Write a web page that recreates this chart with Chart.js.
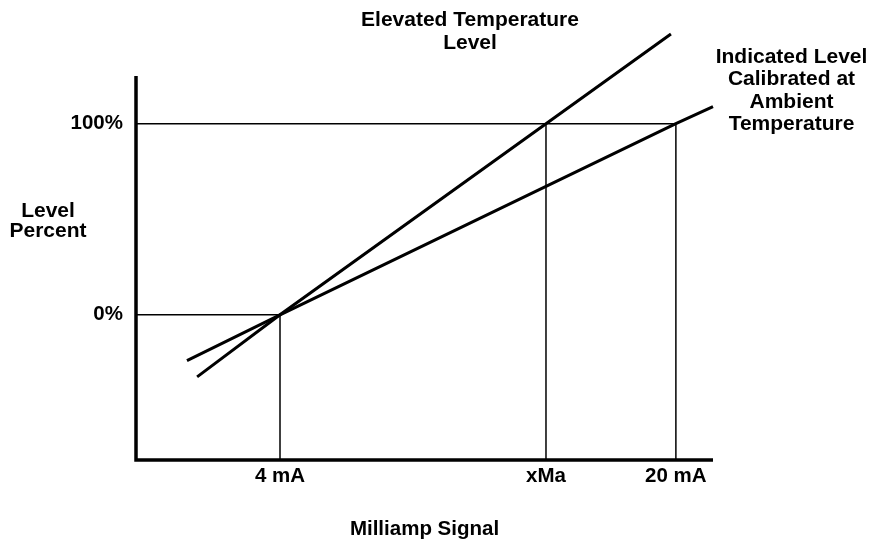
<!DOCTYPE html>
<html>
<head>
<meta charset="utf-8">
<script src="https://cdn.jsdelivr.net/npm/chart.js@4/dist/chart.umd.min.js"></script>
<style>
  html, body { margin: 0; padding: 0; background: #fff; }
  #wrap { width: 884px; height: 544px; position: relative; }
</style>
</head>
<body>
<div id="wrap"><canvas id="levelChart"></canvas></div>
<script>
// tick positions (mA) and labels
const xTickValues = [4, 14.75, 20];
const xTickLabels = ['4 mA', 'xMa', '20 mA'];
const yTickValues = [0, 100];
const yTickLabels = ['0%', '100%'];

// axis extents
const xAxisMin = -1.82, xAxisMax = 21.5;
const yAxisMin = -76, yAxisTop = 125, yScaleMax = 148;

// the two calibration lines (mA, percent)
const elevatedX = [0.65, 4, 14.75, 19.8];
const elevatedY = [-32.5, 0, 100, 147];
const indicatedX = [0.24, 4, 20, 21.5];
const indicatedY = [-24, 0, 100, 109];

const FAMILY = '"Liberation Sans", Arial, sans-serif';

function pts(xs, ys) {
    return xs.map((x, i) => ({ x: x, y: ys[i] }));
}

function thin(data) {
    return { data, borderColor: '#000', borderWidth: 1.5, pointRadius: 0, showLine: true, clip: false };
}

const datasets = [
    // axes frame
    { data: pts([xAxisMin, xAxisMin, xAxisMax], [yAxisTop, yAxisMin, yAxisMin]),
      borderColor: '#000', borderWidth: 3.5, pointRadius: 0, showLine: true, clip: false,
      borderJoinStyle: 'miter' },
    // guide lines
    thin(pts([xAxisMin, xTickValues[2]], [yTickValues[1], yTickValues[1]])),
    thin(pts([xAxisMin, xTickValues[0]], [yTickValues[0], yTickValues[0]])),
    thin(pts([xTickValues[0], xTickValues[0]], [yAxisMin, yTickValues[0]])),
    thin(pts([xTickValues[1], xTickValues[1]], [yAxisMin, yTickValues[1]])),
    thin(pts([xTickValues[2], xTickValues[2]], [yAxisMin, yTickValues[1]])),
    // calibration lines
    { data: pts(elevatedX, elevatedY), borderColor: '#000', borderWidth: 3, pointRadius: 0, showLine: true, clip: false },
    { data: pts(indicatedX, indicatedY), borderColor: '#000', borderWidth: 3, pointRadius: 0, showLine: true, clip: false }
];

const notes = {
    id: 'notes',
    afterDraw(chart) {
        const ctx = chart.ctx;
        ctx.save();
        ctx.font = 'bold 21px ' + FAMILY;
        ctx.fillStyle = '#000';
        ctx.textAlign = 'center';
        ctx.textBaseline = 'middle';
        const blocks = [
            { x: 48, y: 211.5, step: 20, lines: ['Level', 'Percent'] },
            { x: 470, y: 20, step: 23, lines: ['Elevated Temperature', 'Level'] },
            { x: 791.5, y: 57.5, step: 22.2, lines: ['Indicated Level', 'Calibrated at', 'Ambient', 'Temperature'] }
        ];
        blocks.forEach(b => b.lines.forEach((t, i) => ctx.fillText(t, b.x, b.y + i * b.step)));
        ctx.restore();
    }
};

new Chart(document.getElementById('levelChart'), {
    type: 'scatter',
    data: { datasets },
    plugins: [notes],
    options: {
        responsive: true,
        maintainAspectRatio: false,
        animation: false,
        layout: { padding: { left: 0, right: 171, top: 32, bottom: 0 } },
        plugins: { legend: { display: false }, tooltip: { enabled: false } },
        scales: {
            x: {
                type: 'linear', min: xAxisMin, max: xAxisMax,
                grid: { display: false, drawTicks: false }, border: { display: false },
                afterBuildTicks: s => { s.ticks = xTickValues.map(v => ({ value: v })); },
                afterFit: s => { s.height = 84; },
                ticks: {
                    autoSkip: false, maxRotation: 0, padding: 4, color: '#000',
                    font: { family: FAMILY, size: 20.5, weight: 'bold' },
                    callback: (v, i) => xTickLabels[i]
                },
                title: {
                    display: true, text: 'Milliamp Signal', color: '#000', padding: { bottom: 2 },
                    font: { family: FAMILY, size: 20.5, weight: 'bold' }
                }
            },
            y: {
                type: 'linear', min: yAxisMin, max: yScaleMax,
                grid: { display: false, drawTicks: false }, border: { display: false },
                afterBuildTicks: s => { s.ticks = yTickValues.map(v => ({ value: v })); },
                afterFit: s => { s.width = 136; },
                ticks: {
                    padding: 13, color: '#000',
                    font: { family: FAMILY, size: 20.5, weight: 'bold' },
                    callback: (v, i) => yTickLabels[i]
                }
            }
        }
    }
});
</script>
</body>
</html>
